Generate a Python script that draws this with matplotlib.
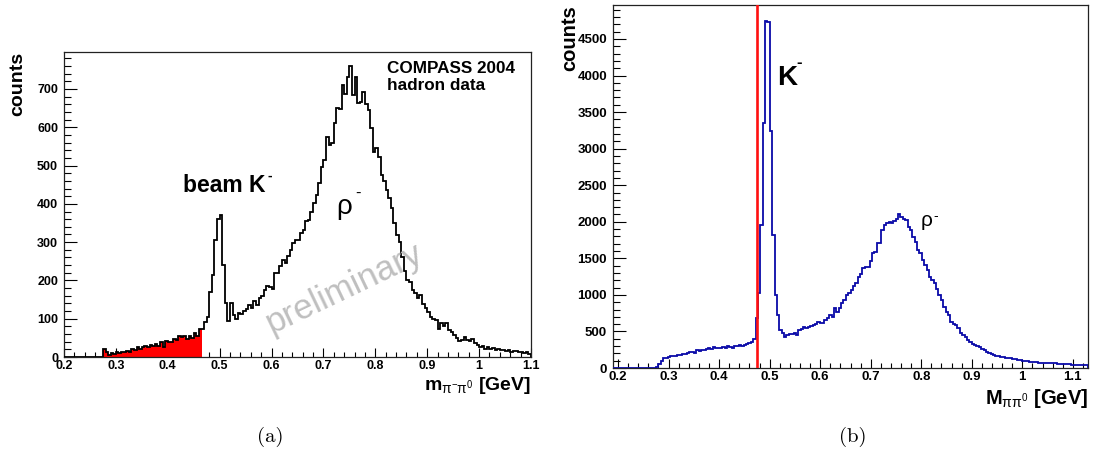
import matplotlib
matplotlib.use("Agg")
import matplotlib.pyplot as plt
import numpy as np
from matplotlib.ticker import MultipleLocator, FuncFormatter

# ---------------- data ----------------
# (a) m(pi- pi0), bins of 0.005 GeV starting at 0.20 GeV
LEFT_START = 0.200
LEFT_BIN = 0.005
left_counts = (
    [0] * 15 +
    [20, 12, 5, 10, 8, 12, 10, 14, 12, 16, 14, 20, 17, 26, 22, 25, 30, 26, 32, 28,
     35, 30, 38, 25, 42, 40, 38, 48, 44, 55, 52, 54, 48, 56, 50, 62, 55] +
    [72] +
    [72, 92, 105, 170, 215, 305, 360, 370, 240, 140, 95, 140, 110, 100, 115, 112, 120,
     125, 135, 128, 145, 135, 155, 160, 175, 185, 182, 178, 220] +
    [219, 237, 254, 245, 263, 280, 298, 306, 306, 324, 333, 354, 359, 380, 402, 424,
     455, 495, 515, 575, 553, 560, 610, 650, 647, 710, 688, 732, 760, 684, 732, 664,
     667, 693, 662, 645, 597, 536, 545, 523, 475] +
    [460, 437, 415, 390, 350, 318, 300, 260, 225, 200, 195, 175, 166, 155, 163, 138,
     128, 118, 105, 98, 96, 72, 88, 82, 88, 70, 66, 57, 50, 43, 45, 52, 44, 42, 46,
     37, 31, 27, 29, 22, 25, 20, 24, 18, 20, 17, 19, 16, 17, 14, 15, 16, 12, 14, 10,
     12, 8]
)
RED_END = 0.465          # shaded region upper edge (GeV)

# (b) M(pi pi0), 200 bins from 0.19 GeV, width 0.0047 GeV
RIGHT_START = 0.19
RIGHT_BIN = 0.0047
right_counts = (
    [0] * 18 +
    [20, 60, 100, 130, 140, 150, 160, 165, 170, 180, 175, 190, 195, 200, 215, 225,
     210, 240, 235, 250, 240, 265, 280, 260, 285, 275, 280, 270, 290, 275, 300, 290,
     280, 300, 295, 310, 300, 320, 335, 345, 360, 400] +
    [680, 1020, 1960, 3350, 4740, 4730, 3240, 1820, 1000, 725, 520, 475, 425] +
    [447, 470, 460, 474, 455, 520, 530, 556, 543, 565, 570, 584, 597, 625, 615, 610,
     657, 680, 725, 703, 816, 771, 816, 885, 930, 998, 1021, 1067, 1122, 1158, 1249,
     1286, 1363, 1375, 1386, 1468, 1569, 1592, 1706, 1715, 1888, 1956, 1979, 2002,
     1990, 2015, 2034, 2107, 2061, 2034, 2030, 1934, 1888, 1797, 1728, 1614, 1569,
     1477, 1409, 1340, 1240, 1200, 1158, 1076, 998, 930, 839, 771, 725, 634, 597,
     584, 543, 474] +
    [450, 420, 385, 360, 335, 318, 300, 282, 260, 246, 222, 200, 190, 178, 168, 164,
     150, 146, 140, 136, 130, 122, 118, 112, 108, 100, 98, 94, 88, 85, 80, 76, 74, 72,
     70, 68, 66, 65, 63, 62, 60, 58, 56, 52, 50, 49, 47, 45, 44, 43, 42, 41, 40]
)
CUT = 0.475              # vertical red line (GeV)

# ---------------- style ----------------
plt.rcParams['font.family'] = ['Liberation Sans', 'DejaVu Sans']
plt.rcParams['font.weight'] = 'bold'
plt.rcParams['mathtext.fontset'] = 'custom'
plt.rcParams['mathtext.rm'] = 'Liberation Sans:weight=normal'
plt.rcParams['mathtext.it'] = 'Liberation Sans:italic:weight=normal'
plt.rcParams['mathtext.bf'] = 'Liberation Sans:bold'

W, H = 1095, 461
fig = plt.figure(figsize=(W / 100, H / 100), dpi=100)


def fx(x):
    return x / W


def fy(y):
    return 1 - y / H


axL = fig.add_axes([fx(64), fy(357), (531 - 64) / W, (357 - 52) / H])
axR = fig.add_axes([fx(613), fy(368), (1088 - 613) / W, (368 - 5) / H])

fmt = FuncFormatter(lambda v, _: f"{v:g}")

for ax, lsize in ((axL, 9), (axR, 9.5)):
    for s in ax.spines.values():
        s.set_linewidth(0.9)
        s.set_color('#222222')
    ax.tick_params(which='both', direction='in', top=False, right=False,
                   width=0.8, labelsize=lsize, colors='black')
    ax.tick_params(axis='y', which='major', length=9.4, pad=4.3)
    ax.tick_params(axis='y', which='minor', length=4.8)
    ax.tick_params(axis='x', which='major', length=6.8, pad=2.5)
    ax.tick_params(axis='x', which='minor', length=3.4)
    ax.xaxis.set_major_locator(MultipleLocator(0.1))
    ax.xaxis.set_minor_locator(MultipleLocator(0.02))
    ax.xaxis.set_major_formatter(fmt)
    ax.yaxis.set_major_formatter(fmt)

# ---- left panel ----
lc = np.array(left_counts, dtype=float)
edgesL = np.round(LEFT_START + LEFT_BIN * np.arange(len(lc) + 1), 4)
n_red = int(np.sum(edgesL[1:] <= RED_END + 1e-9))
first = int(np.argmax(lc > 0))
axL.stairs(lc[first:n_red], edgesL[first:n_red + 1], fill=True, color='#ff0000',
           lw=0, zorder=2)
axL.stairs(lc, edgesL, color='black', lw=1.3, zorder=3)
axL.set_xlim(0.2, 1.1)
axL.set_ylim(0, 796.6)
axL.yaxis.set_major_locator(MultipleLocator(100))
axL.yaxis.set_minor_locator(MultipleLocator(20))

# ---- right panel ----
rc = np.array(right_counts, dtype=float)
edgesR = RIGHT_START + RIGHT_BIN * np.arange(len(rc) + 1)
axR.stairs(rc, edgesR, color='#0a0aa8', lw=1.3, zorder=3)
axR.axvline(CUT, color='#ff1010', lw=1.9, zorder=4)
axR.set_xlim(0.19, 1.13)
axR.set_ylim(0, 4965)
axR.yaxis.set_major_locator(MultipleLocator(500))
axR.yaxis.set_minor_locator(MultipleLocator(100))

# ---- texts ----
fig.text(fx(18), fy(52), 'counts', rotation=90, ha='center', va='top',
         fontsize=14, weight='bold')
fig.text(fx(570), fy(5), 'counts', rotation=90, ha='center', va='top',
         fontsize=14.5, weight='bold')

fig.text(fx(531), fy(385), r'm$_{\mathrm{\pi^{-}\pi^{0}}}$ [GeV]', ha='right',
         va='center', fontsize=14, weight='bold')
fig.text(fx(1088), fy(399), r'M$_{\mathrm{\pi\pi^{0}}}$ [GeV]', ha='right',
         va='center', fontsize=14.5, weight='bold')

fig.text(fx(387), fy(73), 'COMPASS 2004', ha='left', va='baseline',
         fontsize=12.3, weight='bold')
fig.text(fx(387), fy(90), 'hadron data', ha='left', va='baseline',
         fontsize=12.3, weight='bold')

# beam K-
fig.text(fx(183), fy(192), 'beam K', ha='left', va='baseline',
         fontsize=16.5, weight='bold')
fig.text(fx(270), fy(176), '-', ha='center', va='center',
         fontsize=10, weight='bold')

# rho- (left)
fig.text(fx(336), fy(214), 'ρ', ha='left', va='baseline',
         fontsize=20, weight='normal')
fig.text(fx(357.5), fy(193), '-', ha='center', va='center',
         fontsize=12, weight='normal')

fig.text(fx(344), fy(288), 'preliminary', rotation=25.5, rotation_mode='anchor',
         ha='center', va='center', color='#bfbfbf', fontsize=25, weight='normal')

# K- (right)
fig.text(fx(777), fy(85), 'K', ha='left', va='baseline',
         fontsize=20, weight='bold')
fig.text(fx(799), fy(62), '-', ha='center', va='center',
         fontsize=12, weight='bold')

# rho- (right)
fig.text(fx(921), fy(226), 'ρ', ha='left', va='baseline',
         fontsize=15, weight='normal')
fig.text(fx(935.5), fy(216), '-', ha='center', va='center',
         fontsize=10, weight='normal')

fig.text(fx(270), fy(437), '(a)', ha='center', va='center', family='cmr10',
         fontsize=15, weight='normal')
fig.text(fx(853), fy(437), '(b)', ha='center', va='center', family='cmr10',
         fontsize=15, weight='normal')

fig.savefig('out.png', dpi=100)
